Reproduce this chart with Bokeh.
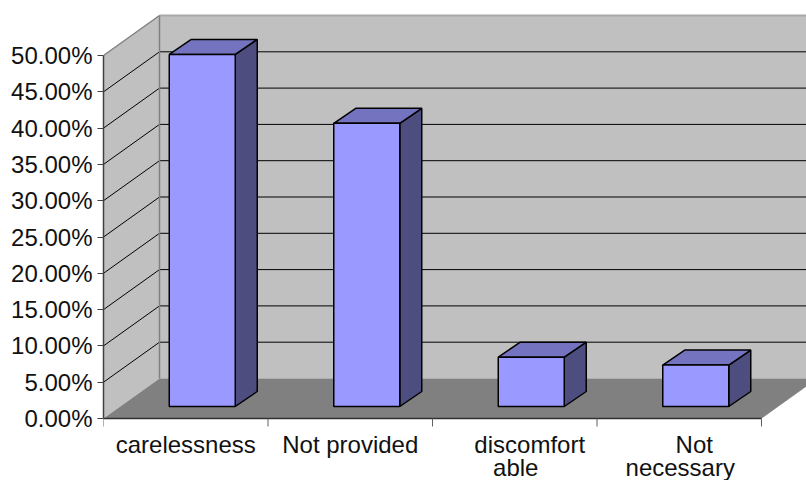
from bokeh.core.properties import value
from bokeh.embed import file_html
from bokeh.models import FixedTicker, LinearAxis, Range1d
from bokeh.plotting import figure
from bokeh.resources import INLINE

categories = ["carelessness", "Not provided", "discomfort\nable", "Not\nnecessary"]
values = [48.5, 39.0, 6.8, 5.7]
y_ticks = [0, 5, 10, 15, 20, 25, 30, 35, 40, 45, 50]
y_tick_labels = {t: f"{t:.2f}%" for t in y_ticks}
# Horizontal nudge of each category line, in category widths
label_shift = [[0.0], [0.0], [0.091, 0.006], [0.091, 0.006]]

# Scales: pixels per category and per percentage point
PX_X = 164.5
PX_Y = 7.26
Y_MAX = 50
N = len(categories)

# Oblique projection of the chart box and of the bars inside it
DEPTH_X = 56 / PX_X
DEPTH_Y = 40 / PX_Y
BAR_W = 66 / PX_X
BAR_DX = 16.5 / PX_X
BAR_DY = 12 / PX_Y
BAR_SIDE_X = 22 / PX_X
BAR_SIDE_Y = 15 / PX_Y

FONT = "Liberation Sans"
FONT_SIZE = "24px"
TEXT_COLOR = "#111111"

WALL = "#C0C0C0"
FLOOR = "#808080"
EDGE = "#808080"
FRONT = "#9999FF"
TOP = "#7373BF"
SIDE = "#4D4D80"

LEFT = 103
AXIS_BASE = 62  # space under the zero line, in pixels

# The frame reaches the bottom of the page so category names can sit inside it
p = figure(
    width=806, height=480, output_backend="svg", toolbar_location=None,
    x_axis_type=None, y_axis_type=None,
    x_range=Range1d(0, 703 / PX_X), y_range=Range1d(-AXIS_BASE / PX_Y, 418 / PX_Y),
    min_border_left=LEFT, min_border_bottom=0, min_border_top=0, min_border_right=0,
    outline_line_color=None, background_fill_color="white", border_fill_color="white",
)
p.xgrid.visible = False
p.ygrid.visible = False

# Back wall, side wall and floor
p.patch([DEPTH_X, DEPTH_X + N, DEPTH_X + N, DEPTH_X],
        [DEPTH_Y, DEPTH_Y, Y_MAX + DEPTH_Y, Y_MAX + DEPTH_Y],
        fill_color=WALL, line_color=None)
p.patch([0, DEPTH_X, DEPTH_X, 0], [0, DEPTH_Y, Y_MAX + DEPTH_Y, Y_MAX],
        fill_color=WALL, line_color=None)
p.patch([0, N, N + DEPTH_X, DEPTH_X], [0, 0, DEPTH_Y, DEPTH_Y],
        fill_color=FLOOR, line_color=None)

# Gridlines run along the side wall and across the back wall
for t in y_ticks[1:-1]:
    p.line([0, DEPTH_X, DEPTH_X + N], [t, t + DEPTH_Y, t + DEPTH_Y],
           line_color="#000000", line_width=1)

# Edges of the walls
p.line([DEPTH_X, DEPTH_X], [DEPTH_Y, Y_MAX + DEPTH_Y], line_color=EDGE, line_width=1.5)
p.line([DEPTH_X, DEPTH_X + N], [Y_MAX + DEPTH_Y, Y_MAX + DEPTH_Y],
       line_color="#A8A8A8", line_width=2)
p.line([0, DEPTH_X], [Y_MAX, Y_MAX + DEPTH_Y], line_color=EDGE, line_width=1.5)

# Bars: front face, top face and right face
for i, v in enumerate(values):
    x0 = i + 0.5 - BAR_W / 2 + BAR_DX
    x1 = x0 + BAR_W
    y0 = BAR_DY
    y1 = BAR_DY + v
    p.patch([x1, x1 + BAR_SIDE_X, x1 + BAR_SIDE_X, x1],
            [y0, y0 + BAR_SIDE_Y, y1 + BAR_SIDE_Y, y1],
            fill_color=SIDE, line_color="black", line_width=1.5)
    p.patch([x0, x0 + BAR_SIDE_X, x1 + BAR_SIDE_X, x1],
            [y1, y1 + BAR_SIDE_Y, y1 + BAR_SIDE_Y, y1],
            fill_color=TOP, line_color="black", line_width=1.5)
    p.patch([x0, x1, x1, x0], [y0, y0, y1, y1],
            fill_color=FRONT, line_color="black", line_width=1.5)

# Value axis
y_axis = LinearAxis(
    ticker=FixedTicker(ticks=y_ticks), bounds=(0, Y_MAX),
    major_label_overrides=y_tick_labels,
    major_tick_out=6, major_tick_in=0, minor_tick_line_color=None,
    major_label_standoff=5,
    major_label_text_font=FONT, major_label_text_font_size=FONT_SIZE,
    major_label_text_color=TEXT_COLOR,
    axis_line_color="#404040", axis_line_width=1.5, major_tick_line_color="#404040",
)
p.add_layout(y_axis, "left")

# Category baseline with a tick between neighbouring categories
TICK_LEN = 8 / PX_Y
p.line([0, N], [0, 0], line_color="#303030", line_width=1.5)
p.segment(list(range(N + 1)), [0] * (N + 1), list(range(N + 1)), [-TICK_LEN] * (N + 1),
          line_color="#606060", line_width=1)

# Category names, one text per line
FIRST_BASELINE = -25.5 / PX_Y
LINE_STEP = 23.5 / PX_Y
for i, name in enumerate(categories):
    for j, line in enumerate(name.split("\n")):
        p.text([i + 0.5 + label_shift[i][j]], [FIRST_BASELINE - j * LINE_STEP], text=[line],
               text_align="center", text_baseline="alphabetic",
               text_font=value(FONT), text_font_size=value(FONT_SIZE),
               text_color=TEXT_COLOR)

open("out.html", "w").write(file_html(p, INLINE))
